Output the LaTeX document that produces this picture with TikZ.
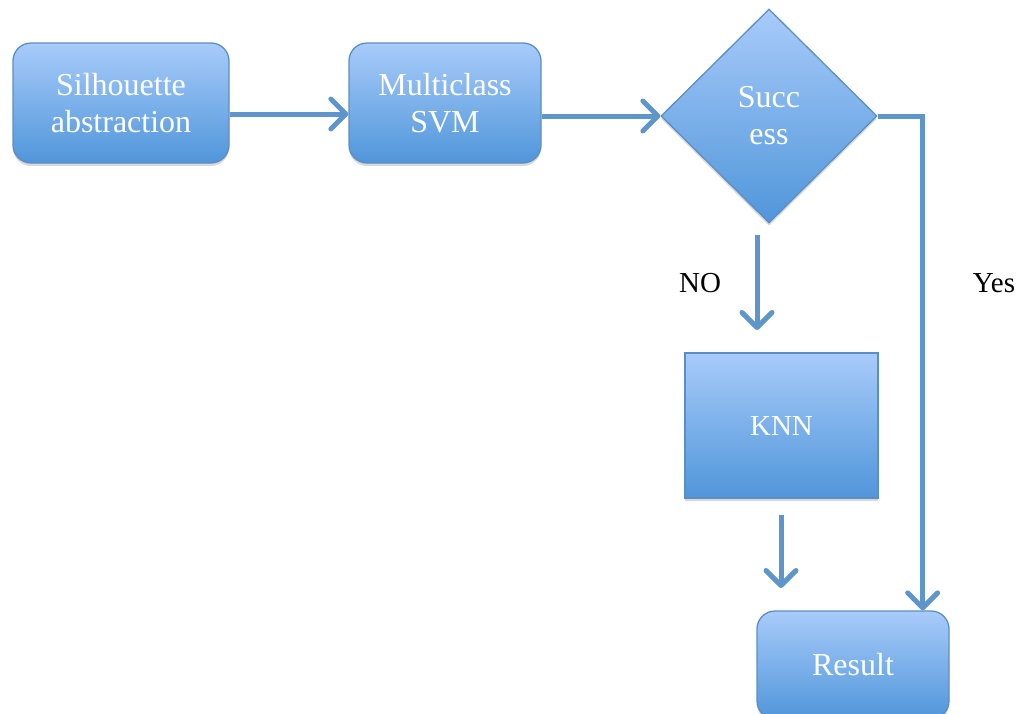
\documentclass[tikz,border=0pt]{standalone}
\usepackage{fontspec}
\setmainfont{Liberation Serif}
\usetikzlibrary{arrows.meta,shapes.geometric,shadows}
\definecolor{boxtop}{HTML}{A8CBFA}
\definecolor{boxbot}{HTML}{5096DA}
\definecolor{boxline}{HTML}{5C8EC6}
\definecolor{arrowc}{HTML}{5E95CA}
\begin{document}
\begin{tikzpicture}[x=1pt,y=-1pt,
  box/.style={draw=boxline, line width=1.3pt, top color=boxtop, bottom color=boxbot,
    text=white, font=\fontsize{32}{37}\selectfont, align=center, inner sep=0pt,
    drop shadow={opacity=0.3, shadow xshift=0pt, shadow yshift=-3pt}},
  rbox/.style={box, rounded corners=18pt},
  arr/.style={draw=arrowc, line width=5pt,
    -{Straight Barb[length=15pt, width=30pt, line cap=round, line join=round]}},
  lbl/.style={text=black, font=\fontsize{29}{35}\selectfont}]
\useasboundingbox (0,0) rectangle (1023,713);
\clip (0,0) rectangle (1023,713);
\node[rbox, minimum width=216pt, minimum height=120pt] (sil) at (121,103) {Silhouette\\abstraction};
\node[rbox, minimum width=192pt, minimum height=120pt] (svm) at (445,103) {Multiclass\\SVM};
\node[box, diamond, aspect=1, minimum width=216pt, minimum height=214pt] (suc) at (769,116) {Succ\\ess};
\node[box, font=\fontsize{29}{35}\selectfont, minimum width=193pt, minimum height=145pt] (knn) at (781.5,425.5) {KNN};
\node[rbox, minimum width=192pt, minimum height=108pt] (res) at (853,665) {Result};
\coordinate (no1) at (757,235);
\coordinate (no2) at (757,330);
\coordinate (kn1) at (781,515);
\coordinate (kn2) at (781,588);
\draw[arr] ([yshift=-11pt]sil.east) -- ([yshift=-11pt]svm.west);
\draw[arr] (svm.east |- suc.west) -- (suc.west);
\draw[arr] (suc.east) -| ([xshift=-27pt]res.north east);
\draw[arr] (no1) -- (no2);
\draw[arr] (kn1) -- (kn2);
\node[lbl] (nolbl) at (700,283) {NO};
\node[lbl] (yeslbl) at (994,283) {Yes};
\end{tikzpicture}
\end{document}
